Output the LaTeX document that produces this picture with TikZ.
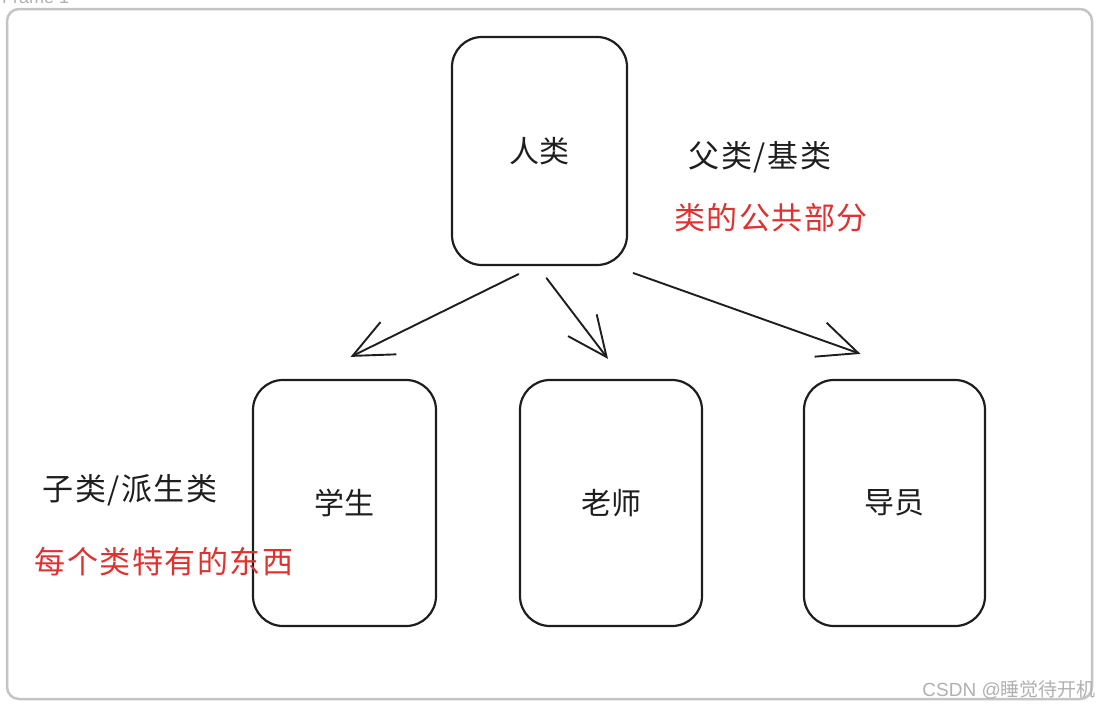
\documentclass[tikz,border=0pt]{standalone}
\usepackage{fontspec}
\setmainfont{Liberation Sans}
\newfontfamily\cjk{Noto Sans CJK SC}
\usetikzlibrary{arrows.meta,calc}
\definecolor{ink}{HTML}{1E1E1E}
\definecolor{redink}{HTML}{E03131}
\definecolor{framegray}{HTML}{C4C4C4}
\definecolor{wmgray}{HTML}{B0B0B0}
\begin{document}
\begin{tikzpicture}[x=1pt,y=-1pt,
  classbox/.style={draw=ink, line width=2.2pt, rounded corners=30pt, inner sep=0pt,
    font=\cjk\fontsize{30}{34}\selectfont, text=ink},
  note/.style={font=\cjk\fontsize{31}{36}\selectfont\addfontfeatures{LetterSpace=5}, text=ink, inner sep=0pt},
  rednote/.style={note, text=redink},
  arr/.style={draw=ink, line width=1.9pt, line cap=round,
    -{Straight Barb[length=40pt,width=36pt,line width=1.9pt]}}
]
\useasboundingbox (0,0) rectangle (1099,707);
% frame
\node[anchor=base west, text=wmgray, font=\fontsize{18}{20}\selectfont, inner sep=0pt] (framelabel) at (2,3) {Frame 1};
\draw[framegray, line width=2.5pt, rounded corners=12pt] (7,9) rectangle (1092,699);
% boxes
\node[classbox, minimum width=175pt, minimum height=228pt] (human) at (539.5,151) {人类};
\node[classbox, minimum width=183pt, minimum height=246pt] (student) at (344.5,503) {学生};
\node[classbox, minimum width=182pt, minimum height=246pt] (teacher) at (611,503) {老师};
\node[classbox, minimum width=181pt, minimum height=246pt] (guide) at (894.5,503) {导员};
% arrow ends
\coordinate (s1) at ($(human.south)+(-21,8)$);
\coordinate (s2) at ($(human.south)+(7,12)$);
\coordinate (s3) at ($(human.south)+(94,7)$);
\coordinate (e1) at ($(student.north)+(6,-22)$);
\coordinate (e2) at ($(teacher.north)+(-3,-20)$);
\coordinate (e3) at ($(guide.north)+(-34,-25)$);
\draw[arr] (s1) -- (e1);
\draw[arr] (s2) -- (e2);
\draw[arr] (s3) -- (e3);
% notes
\node[note] (parent) at (760,157) {父类/基类};
\node[rednote] (common) at (771,218) {类的公共部分};
\node[note] (child) at (130,490) {子类/派生类};
\node[rednote] (own) at (164,562) {每个类特有的东西};
% watermark
\node[anchor=east, text=wmgray, font=\fontsize{19}{22}\selectfont, inner sep=0pt] (wm) at (1096,690) {CSDN @{\cjk 睡觉待开机}};
\end{tikzpicture}
\end{document}
